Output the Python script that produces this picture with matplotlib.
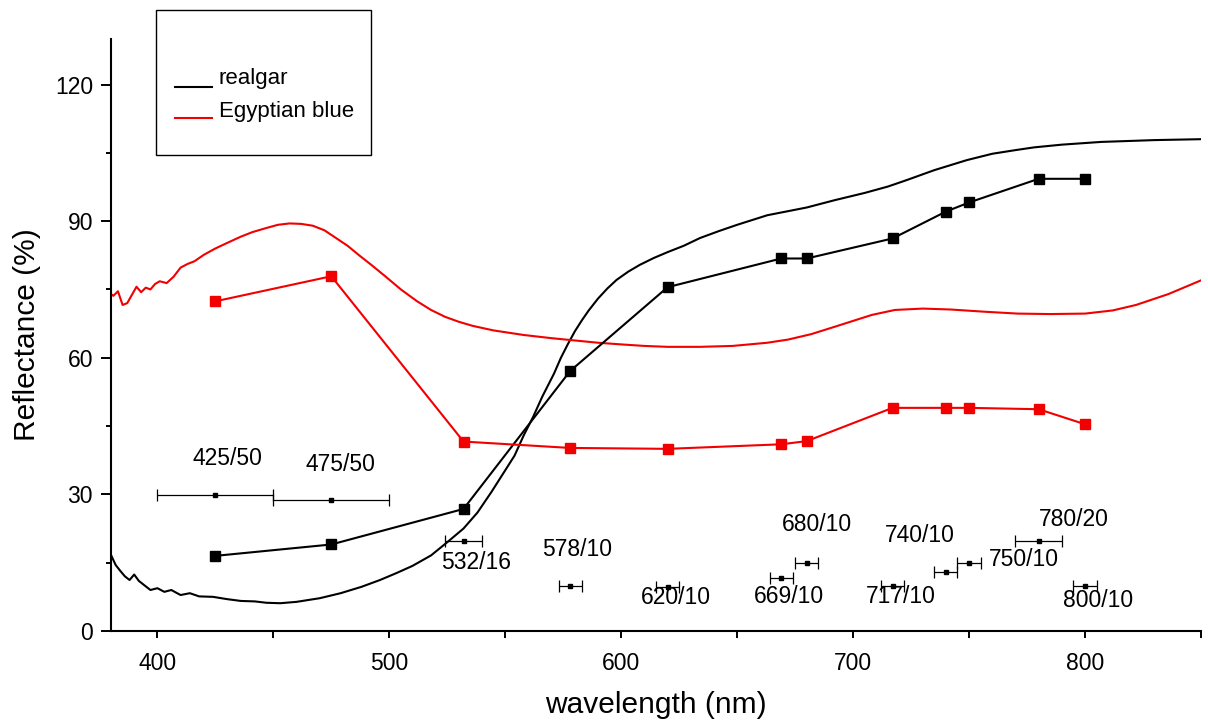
import matplotlib.pyplot as plt
from matplotlib.patches import Rectangle
from matplotlib.lines import Line2D
from matplotlib.ticker import MultipleLocator

# reflectance spectra
realgar_wl = [380, 382, 384, 386, 388, 390, 392, 394, 397, 400, 403, 406, 410, 414, 418, 424,
              430, 436, 442, 447, 453, 460, 470, 479, 488, 496, 503, 510, 518, 525, 532, 538,
              544, 549, 554, 558, 562, 566, 571, 574, 577, 580, 583, 586, 590, 594, 598, 603,
              608, 614, 620, 627, 634, 642, 650, 663, 680, 692, 705, 715, 723, 735, 749, 760,
              770, 778, 790, 807, 830, 850]
realgar_r = [16.7, 14.5, 13.2, 12.0, 11.2, 12.4, 11.0, 10.2, 9.0, 9.4, 8.6, 9.0, 7.9, 8.3, 7.6, 7.5,
             7.0, 6.6, 6.5, 6.2, 6.1, 6.4, 7.2, 8.3, 9.7, 11.2, 12.7, 14.3, 16.6, 19.5, 22.5, 26.0,
             30.5, 34.5, 38.5, 43.0, 47.0, 51.5, 56.5, 60.0, 63.0, 65.8, 68.2, 70.4, 73.0, 75.2, 77.1, 78.9,
             80.4, 81.9, 83.2, 84.6, 86.3, 87.8, 89.2, 91.3, 93.0, 94.6, 96.2, 97.6, 99.0, 101.2, 103.4, 104.8,
             105.6, 106.2, 106.8, 107.4, 107.8, 108.0]

eb_wl = [380, 381, 383, 385, 387, 389, 391, 393, 395, 397, 399, 401, 404, 407, 410, 413,
         416, 420, 425, 430, 436, 441, 447, 452, 457, 462, 467, 472, 477, 482, 487, 492,
         498, 505, 512, 518, 524, 530, 536, 545, 558, 570, 580, 590, 601, 610, 620, 634,
         648, 663, 672, 682, 692, 700, 708, 718, 730, 742, 757, 771, 785, 800, 812, 822,
         836, 850]
eb_r = [74.0, 73.6, 74.6, 71.6, 72.0, 73.8, 75.6, 74.4, 75.4, 75.0, 76.2, 76.8, 76.4, 77.8, 79.8, 80.6,
        81.2, 82.6, 84.0, 85.2, 86.6, 87.6, 88.5, 89.2, 89.5, 89.4, 89.0, 88.0, 86.3, 84.6, 82.5, 80.5,
        78.0, 75.0, 72.4, 70.5, 69.0, 67.9, 67.0, 66.0, 65.0, 64.3, 63.8, 63.3, 62.9, 62.6, 62.4, 62.4,
        62.6, 63.3, 64.0, 65.2, 66.8, 68.1, 69.4, 70.5, 70.8, 70.6, 70.1, 69.7, 69.6, 69.7, 70.4, 71.6,
        74.0, 77.0]

# filter band values
bands = [425, 475, 532, 578, 620, 669, 680, 717, 740, 750, 780, 800]
realgar_pts = [16.5, 19.0, 26.8, 57.1, 75.5, 81.8, 81.8, 86.2, 92.1, 94.1, 99.3, 99.3]
eb_pts = [72.4, 77.9, 41.6, 40.2, 40.0, 41.0, 41.7, 49.0, 49.0, 49.0, 48.7, 45.4]

# filters: centre / bandwidth, drawn as horizontal error bars
filt_w = [50, 50, 16, 10, 10, 10, 10, 10, 10, 10, 20, 10]
filt_y = [29.8, 28.7, 19.8, 9.9, 9.7, 11.7, 14.9, 9.9, 13.0, 14.9, 19.8, 9.9]
filt_labels = [f"{c}/{w}" for c, w in zip(bands, filt_w)]

# where each filter label sits (data coords)
label_pos = [(430, 37.9), (479, 36.6), (537.6, 15.0), (580.8, 17.9), (623.7, 7.3), (672.3, 7.5),
             (684.6, 23.3), (720.5, 7.5), (728.9, 21.0), (773.7, 15.7), (795.3, 24.5), (805.7, 6.8)]

plt.rcParams['font.family'] = ['Liberation Sans', 'DejaVu Sans']

fig = plt.figure(figsize=(12.08, 7.2), dpi=100)
ax = fig.add_axes([111 / 1208, 1 - 631 / 720, 1090 / 1208, 592 / 720])

red = '#f20000'
ax.plot(realgar_wl, realgar_r, color='black', lw=1.5)
ax.plot(eb_wl, eb_r, color=red, lw=1.5)
ax.plot(bands, realgar_pts, color='black', lw=1.5, marker='s', ms=6.5)
ax.plot(bands, eb_pts, color=red, lw=1.5, marker='s', ms=6.5)

for c, w, y in zip(bands, filt_w, filt_y):
    ax.errorbar(c, y, xerr=w / 2, fmt='s', color='black', ms=3, lw=0.9,
                capsize=4, capthick=0.9)

for lab, (lx, ly) in zip(filt_labels, label_pos):
    ax.text(lx, ly, lab, ha='center', va='center', fontsize=16.5)

ax.set_xlim(380, 850)
ax.set_ylim(0, 130)
ax.xaxis.set_major_locator(MultipleLocator(100))
ax.xaxis.set_minor_locator(MultipleLocator(50))
ax.yaxis.set_major_locator(MultipleLocator(30))
ax.yaxis.set_minor_locator(MultipleLocator(15))

for s in ['top', 'right']:
    ax.spines[s].set_visible(False)
for s in ['left', 'bottom']:
    ax.spines[s].set_linewidth(1.5)

ax.tick_params(axis='x', which='both', direction='out', length=5, width=1.4,
               labelsize=16.5, pad=10)
ax.tick_params(axis='y', which='major', direction='out', length=7, width=1.4,
               labelsize=16.5, pad=6)
ax.tick_params(axis='y', which='minor', direction='out', length=3.5, width=1.4)

ax.set_xlabel('wavelength (nm)', fontsize=21.5, va='center')
ax.xaxis.set_label_coords(0.5, -0.125)
ax.set_ylabel('Reflectance (%)', fontsize=21.5, va='center')
ax.yaxis.set_label_coords(-0.077, 0.5)

# legend box drawn by hand (it sticks out above the axes)
fig.patches.append(Rectangle((156 / 1208, 1 - 155 / 720), 215 / 1208, 145 / 720,
                             transform=fig.transFigure, fill=False, ec='black', lw=1.0))
fig.lines.append(Line2D([175 / 1208, 212 / 1208], [1 - 87 / 720] * 2,
                        transform=fig.transFigure, color='black', lw=1.5))
fig.lines.append(Line2D([175 / 1208, 212 / 1208], [1 - 118 / 720] * 2,
                        transform=fig.transFigure, color=red, lw=1.5))
fig.text(219 / 1208, 1 - 84 / 720, 'realgar', fontsize=16, va='baseline')
fig.text(219 / 1208, 1 - 117 / 720, 'Egyptian blue', fontsize=16, va='baseline')

fig.savefig('out.png', dpi=100)
